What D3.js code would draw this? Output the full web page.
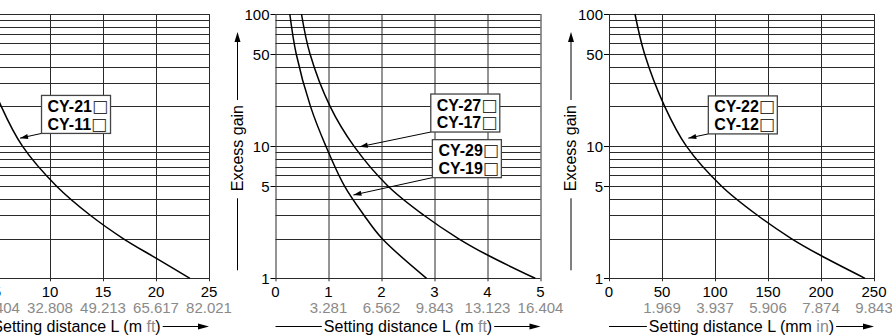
<!DOCTYPE html>
<meta charset="utf-8">
<html lang="en">
<head>
<title>Excess gain vs setting distance</title>
<style>
  body { margin: 0; background: #fff; }
  svg { display: block; font-family: "Liberation Sans", Arial, Helvetica, sans-serif; }
</style>
</head>
<body>
<div id="chart"></div>
<script src="https://cdn.jsdelivr.net/npm/d3@7"></script>
<script>
// gain axis, shared by the three panels
const gainTicks = [1, 5, 10, 50, 100];
const gainGrid = [1, 2, 3, 4, 5, 6, 7, 8, 9, 10, 20, 30, 40, 50, 60, 70, 80, 90, 100];

// distance axes (metric ticks + grey imperial equivalents)
const mTicksLong = [0, 5, 10, 15, 20, 25];
const ftTicksLong = ["", "16.404", "32.808", "49.213", "65.617", "82.021"];
const mTicksShort = [0, 1, 2, 3, 4, 5];
const ftTicksShort = ["", "3.281", "6.562", "9.843", "13.123", "16.404"];
const mmTicks = [0, 50, 100, 150, 200, 250];
const inTicks = ["", "1.969", "3.937", "5.906", "7.874", "9.843"];

// curves (gain vs distance)
const cy21Gain = [100, 50, 20, 10, 5, 3, 2, 1.42, 1];
const cy21Dist = [2.6, 3.5, 5.4, 7.4, 10.6, 13.8, 16.9, 20, 23.2];
const cy27Gain = [100, 50, 20, 10, 5, 3, 2, 1.5, 1];
const cy27Dist = [0.49, 0.65, 1.03, 1.48, 2.12, 2.8, 3.45, 4.0, 4.9];
const cy29Gain = [100, 50, 20, 10, 5, 3, 2, 1];
const cy29Dist = [0.27, 0.39, 0.66, 0.95, 1.3, 1.67, 2.01, 2.85];
const cy22Gain = [100, 50, 20, 10, 5, 3, 2, 1.5, 1];
const cy22Dist = [24.5, 33.5, 52.5, 73, 106, 140, 172, 199, 241.5];

const W = 892, H = 336;
const PW = 265;           // plot width of one panel
const TOP = 14, BOT = 278.3;
const GREY = "#8a8a8a";

const panels = [
  { x0: -56, ticks: mTicksLong, sub: ftTicksLong, unit: "m", alt: "ft",
    curves: [[cy21Dist, cy21Gain]],
    boxes: [{ lines: ["CY-21", "CY-11"], dist: 9.2, gain: 24.2, to: [7.17, 11.5] }] },
  { x0: 275.5, ticks: mTicksShort, sub: ftTicksShort, unit: "m", alt: "ft",
    curves: [[cy27Dist, cy27Gain], [cy29Dist, cy29Gain]],
    boxes: [{ lines: ["CY-27", "CY-17"], dist: 2.93, gain: 24.8, to: [1.59, 9.9] },
            { lines: ["CY-29", "CY-19"], dist: 2.96, gain: 11.2, to: [1.47, 4.27] }] },
  { x0: 609, ticks: mmTicks, sub: inTicks, unit: "mm", alt: "in",
    curves: [[cy22Dist, cy22Gain]],
    boxes: [{ lines: ["CY-22", "CY-12"], dist: 93.7, gain: 24, to: [74.8, 11.5] }] }
];

const svg = d3.select("#chart").append("svg")
  .attr("width", W).attr("height", H);

const y = d3.scaleLog().domain([1, 100]).range([BOT, TOP]);
const crisp = v => Math.round(v) + 0.5;

function arrowHead(g, tipX, tipY, fromX, fromY, len, half) {
  const a = Math.atan2(tipY - fromY, tipX - fromX);
  const bx = tipX - len * Math.cos(a), by = tipY - len * Math.sin(a);
  const px = -Math.sin(a) * half, py = Math.cos(a) * half;
  g.append("path")
    .attr("d", `M${tipX},${tipY}L${bx + px},${by + py}L${bx - px},${by - py}Z`)
    .attr("fill", "#000");
}

panels.forEach(p => {
  const g = svg.append("g").attr("transform", `translate(${p.x0},0)`);
  const x = d3.scaleLinear().domain([0, d3.max(p.ticks)]).range([0, PW]);

  // grid
  g.append("g").selectAll("line").data(gainGrid).join("line")
    .attr("x1", 0).attr("x2", PW)
    .attr("y1", d => crisp(y(d))).attr("y2", d => crisp(y(d)))
    .attr("stroke", "#2a2a2a").attr("stroke-width", 1);
  g.append("g").selectAll("line").data(p.ticks).join("line")
    .attr("x1", d => crisp(x(d))).attr("x2", d => crisp(x(d)))
    .attr("y1", y(100)).attr("y2", y(1) + 3)
    .attr("stroke", "#2a2a2a").attr("stroke-width", 1);

  // y ticks
  const yt = g.append("g").selectAll("g").data(gainTicks).join("g")
    .attr("transform", d => `translate(0,${crisp(y(d))})`);
  yt.append("line").attr("x1", -5).attr("x2", 0).attr("stroke", "#000");
  yt.append("text").attr("x", -6).attr("dy", "0.36em")
    .attr("text-anchor", "end").attr("font-size", 15).text(d => d);

  // x ticks
  g.append("g").selectAll("text").data(p.ticks).join("text")
    .attr("x", d => x(d)).attr("y", 296.5)
    .attr("text-anchor", "middle").attr("font-size", 15).text(d => d);
  g.append("g").selectAll("text").data(p.sub).join("text")
    .attr("x", (d, i) => x(p.ticks[i])).attr("y", 312.5)
    .attr("text-anchor", "middle").attr("font-size", 15)
    .attr("fill", GREY).text(d => d);

  // y title with arrow
  const yc = (y(1) + y(100)) / 2 + 2, tx = -38;
  const yTitle = g.append("text")
    .attr("transform", `translate(${tx + 5},${yc}) rotate(-90)`)
    .attr("text-anchor", "middle").attr("font-size", 16).text("Excess gain");
  const yl = yTitle.node().getComputedTextLength();
  g.append("line").attr("x1", tx).attr("x2", tx)
    .attr("y1", yc + yl / 2 + 7).attr("y2", y(1) - 8).attr("stroke", "#000");
  g.append("line").attr("x1", tx).attr("x2", tx)
    .attr("y1", yc - yl / 2 - 5).attr("y2", 40).attr("stroke", "#000");
  arrowHead(g, tx, 32, tx, 60, 10, 3);

  // x title with arrow
  const xc = PW / 2, ty = 331.5, ly = 326.5;
  const xTitle = g.append("text").attr("x", xc).attr("y", ty)
    .attr("text-anchor", "middle").attr("font-size", 16);
  xTitle.append("tspan").text(`Setting distance L (${p.unit} `);
  xTitle.append("tspan").attr("fill", GREY).text(p.alt);
  xTitle.append("tspan").text(")");
  const xl = xTitle.node().getComputedTextLength();
  g.append("line").attr("x1", 0).attr("x2", xc - xl / 2 - 2)
    .attr("y1", ly).attr("y2", ly).attr("stroke", "#000");
  g.append("line").attr("x1", xc + xl / 2 + 2).attr("x2", PW - 6)
    .attr("y1", ly).attr("y2", ly).attr("stroke", "#000");
  arrowHead(g, PW, ly, 0, ly, 11, 3);

  // curves
  const line = d3.line().x(d => x(d[0])).y(d => y(d[1])).curve(d3.curveCatmullRom.alpha(0.5));
  p.curves.forEach(([dist, gain]) => {
    g.append("path").datum(dist.map((d, i) => [d, gain[i]]))
      .attr("d", line).attr("fill", "none")
      .attr("stroke", "#000").attr("stroke-width", 1.5);
  });

  // model labels with arrows
  p.boxes.forEach(b => {
    const bx = x(b.dist), by = y(b.gain), bw = 69, bh = 38;
    const tipX = x(b.to[0]), tipY = y(b.to[1]);
    g.append("line").attr("x1", bx).attr("y1", by + bh)
      .attr("x2", tipX).attr("y2", tipY).attr("stroke", "#000").attr("stroke-width", 1);
    arrowHead(g, tipX, tipY, bx, by + bh, 8, 2.6);
    g.append("rect").attr("x", bx).attr("y", by).attr("width", bw).attr("height", bh)
      .attr("fill", "#fff").attr("stroke", "#444").attr("stroke-width", 1.3);
    b.lines.forEach((t, i) => {
      const txt = g.append("text").attr("x", bx + 6).attr("y", by + 16.5 + i * 17.8)
        .attr("font-size", 16).attr("font-weight", "bold");
      txt.append("tspan").text(t);
      txt.append("tspan").attr("font-family", "DejaVu Sans").attr("font-weight", "normal")
        .attr("font-size", 17).attr("fill", "#333").text("\u25A1");
    });
  });
});
</script>
</body>
</html>
